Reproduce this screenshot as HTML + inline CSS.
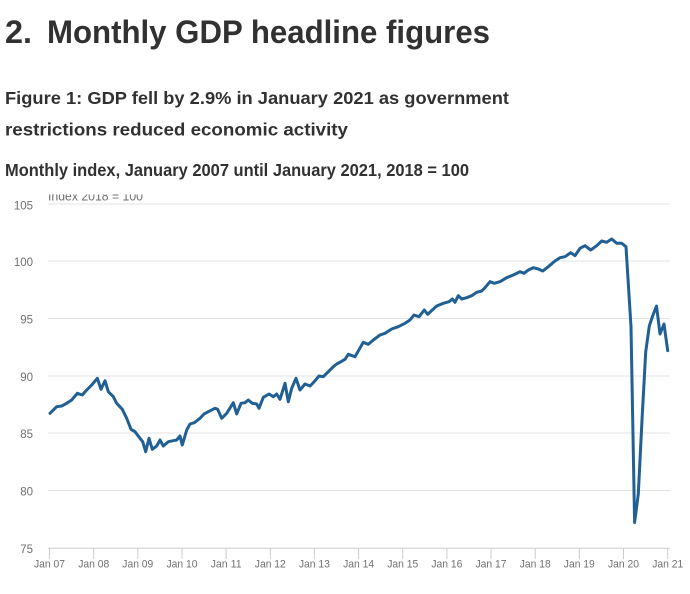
<!DOCTYPE html>
<html>
<head>
<meta charset="utf-8">
<style>
  html, body { margin: 0; padding: 0; background: #ffffff; }
  body { width: 690px; height: 594px; overflow: hidden; }
  svg { display: block; }
  .hd { font-family: "Liberation Sans", Arial, sans-serif; font-weight: bold; fill: #323132; }
  .ax { font-family: "Liberation Sans", Arial, sans-serif; fill: #707071; }
</style>
</head>
<body>
<svg width="690" height="594" viewBox="0 0 690 594" xmlns="http://www.w3.org/2000/svg">
  <defs>
    <clipPath id="idxclip"><rect x="40" y="194.5" width="200" height="20"/></clipPath>
  </defs>

  <!-- Headings -->
  <text class="hd" x="5" y="43" font-size="32" textLength="27" lengthAdjust="spacingAndGlyphs">2.</text>
  <text class="hd" x="47" y="43" font-size="32" textLength="443" lengthAdjust="spacingAndGlyphs">Monthly GDP headline figures</text>
  <text class="hd" x="5" y="104" font-size="17.5" textLength="504" lengthAdjust="spacingAndGlyphs">Figure 1: GDP fell by 2.9% in January 2021 as government</text>
  <text class="hd" x="5" y="135.5" font-size="17.5" textLength="343" lengthAdjust="spacingAndGlyphs">restrictions reduced economic activity</text>
  <text class="hd" x="5" y="176" font-size="17.5" textLength="464" lengthAdjust="spacingAndGlyphs">Monthly index, January 2007 until January 2021, 2018 = 100</text>

  <!-- Axis title (clipped at top as in reference) -->
  <g clip-path="url(#idxclip)">
    <text class="ax" x="48" y="200.5" font-size="12.5" textLength="95" lengthAdjust="spacingAndGlyphs">Index 2018 = 100</text>
  </g>

  <!-- Gridlines -->
  <g stroke="#e3e3e3" stroke-width="1">
    <line x1="48" y1="204" x2="670" y2="204"/>
    <line x1="48" y1="261" x2="670" y2="261"/>
    <line x1="48" y1="318.5" x2="670" y2="318.5"/>
    <line x1="48" y1="376" x2="670" y2="376"/>
    <line x1="48" y1="433" x2="670" y2="433"/>
    <line x1="48" y1="490.5" x2="670" y2="490.5"/>
  </g>
  <!-- X axis line -->
  <line x1="48" y1="548.3" x2="670" y2="548.3" stroke="#cccccc" stroke-width="1"/>

  <!-- Y labels -->
  <g class="ax" font-size="11.5" text-anchor="end">
    <text x="33" y="209.5">105</text>
    <text x="33" y="266">100</text>
    <text x="33" y="323.5">95</text>
    <text x="33" y="381">90</text>
    <text x="33" y="438">85</text>
    <text x="33" y="495.5">80</text>
    <text x="33" y="553">75</text>
  </g>

  <!-- X ticks -->
  <g stroke="#cccccc" stroke-width="1">
    <line x1="49.5" y1="548" x2="49.5" y2="559"/>
    <line x1="93.7" y1="548" x2="93.7" y2="559"/>
    <line x1="137.8" y1="548" x2="137.8" y2="559"/>
    <line x1="182" y1="548" x2="182" y2="559"/>
    <line x1="226.1" y1="548" x2="226.1" y2="559"/>
    <line x1="270.3" y1="548" x2="270.3" y2="559"/>
    <line x1="314.4" y1="548" x2="314.4" y2="559"/>
    <line x1="358.6" y1="548" x2="358.6" y2="559"/>
    <line x1="402.7" y1="548" x2="402.7" y2="559"/>
    <line x1="446.9" y1="548" x2="446.9" y2="559"/>
    <line x1="491" y1="548" x2="491" y2="559"/>
    <line x1="535.2" y1="548" x2="535.2" y2="559"/>
    <line x1="579.3" y1="548" x2="579.3" y2="559"/>
    <line x1="623.5" y1="548" x2="623.5" y2="559"/>
    <line x1="667.7" y1="548" x2="667.7" y2="559"/>
  </g>

  <!-- X labels -->
  <g class="ax" font-size="11" text-anchor="middle">
    <text x="49.5" y="567.5" textLength="31" lengthAdjust="spacingAndGlyphs">Jan 07</text>
    <text x="93.7" y="567.5" textLength="31" lengthAdjust="spacingAndGlyphs">Jan 08</text>
    <text x="137.8" y="567.5" textLength="31" lengthAdjust="spacingAndGlyphs">Jan 09</text>
    <text x="182" y="567.5" textLength="31" lengthAdjust="spacingAndGlyphs">Jan 10</text>
    <text x="226.1" y="567.5" textLength="31" lengthAdjust="spacingAndGlyphs">Jan 11</text>
    <text x="270.3" y="567.5" textLength="31" lengthAdjust="spacingAndGlyphs">Jan 12</text>
    <text x="314.4" y="567.5" textLength="31" lengthAdjust="spacingAndGlyphs">Jan 13</text>
    <text x="358.6" y="567.5" textLength="31" lengthAdjust="spacingAndGlyphs">Jan 14</text>
    <text x="402.7" y="567.5" textLength="31" lengthAdjust="spacingAndGlyphs">Jan 15</text>
    <text x="446.9" y="567.5" textLength="31" lengthAdjust="spacingAndGlyphs">Jan 16</text>
    <text x="491" y="567.5" textLength="31" lengthAdjust="spacingAndGlyphs">Jan 17</text>
    <text x="535.2" y="567.5" textLength="31" lengthAdjust="spacingAndGlyphs">Jan 18</text>
    <text x="579.3" y="567.5" textLength="31" lengthAdjust="spacingAndGlyphs">Jan 19</text>
    <text x="623.5" y="567.5" textLength="31" lengthAdjust="spacingAndGlyphs">Jan 20</text>
    <text x="667.7" y="567.5" textLength="31" lengthAdjust="spacingAndGlyphs">Jan 21</text>
  </g>

  <!-- Series -->
  <polyline fill="none" stroke="#206095" stroke-width="3" stroke-linejoin="round" stroke-linecap="round"
    points="
50,413.3 56.7,406.7 61.7,406 66.7,403.3 71.7,400 77.3,393.3 82.3,395 86.7,390 91.7,385 97.3,378.3
101,389.3 105,380.7 108.3,391.7 113.3,396.7 116.7,403.3 122.3,409.3 126.7,418.3 131,429.3 135,431.7
140,438.3 142.7,441.7 145.7,451.7 149,438.3 152.3,449.3 156.7,446 160,440 163.3,446 168.3,441.7
173.3,440.7 176.7,440 180,436 182.3,445 186.7,430 190,424 194.3,422.7 200,418.3
204,414 208.3,411.7 215,408.3 217.7,409.3 221.7,418.3 226.7,413.3 233.3,402.7 236.7,414 241,403.3
245,402.7 248.3,400 252.3,403.3 256.7,404 259,408.3 263.3,397.3 269,394 273.3,396.7 276.7,394
280,399.3 285,383.3 288.3,401.7 291.7,388.3 296,378.3 300,390 305,384 310,386 313.3,382.7 319,376
323.3,376.7 328.3,371.7 333.3,366.7 336.7,364 341,361.7 345,359.3 348.3,354.3 355,356.7
363.3,342.3 368.3,344.3 373.3,340 380,335 385,333.3 391.7,329 398.3,326.7 405,323.3 410,320 414,315
419,316.7 424.3,310 427.7,314.3 432.3,310 436.7,306 443.3,303.3 449,301.7 452.3,299 455,302.3
458.3,295.7 461.7,299 466.7,297.7 471.7,295.7 476.7,292.3 481.7,291 485,287.7 490,281.7 494.3,283.3
500,281.7 506.7,277.7 513.3,275 520,271.7 524,273.3 528.3,270 533.3,267.7 538.3,269 542.7,271
548.3,266.7 555,261 560,257.7 565,256.7 570.7,252.7 575,255.7 580,248.3 585,245.7 590.7,250
596.7,245.7 601.7,241 606.7,242.3 611.7,239 616.7,243.3 621.7,243.3 626,246.7
631,326.7 634.6,522.5 638.3,494 642,420 645.7,352 649.3,326 653,315 656.5,306 660,334 664,324 667.7,350.7"/>
</svg>
</body>
</html>
